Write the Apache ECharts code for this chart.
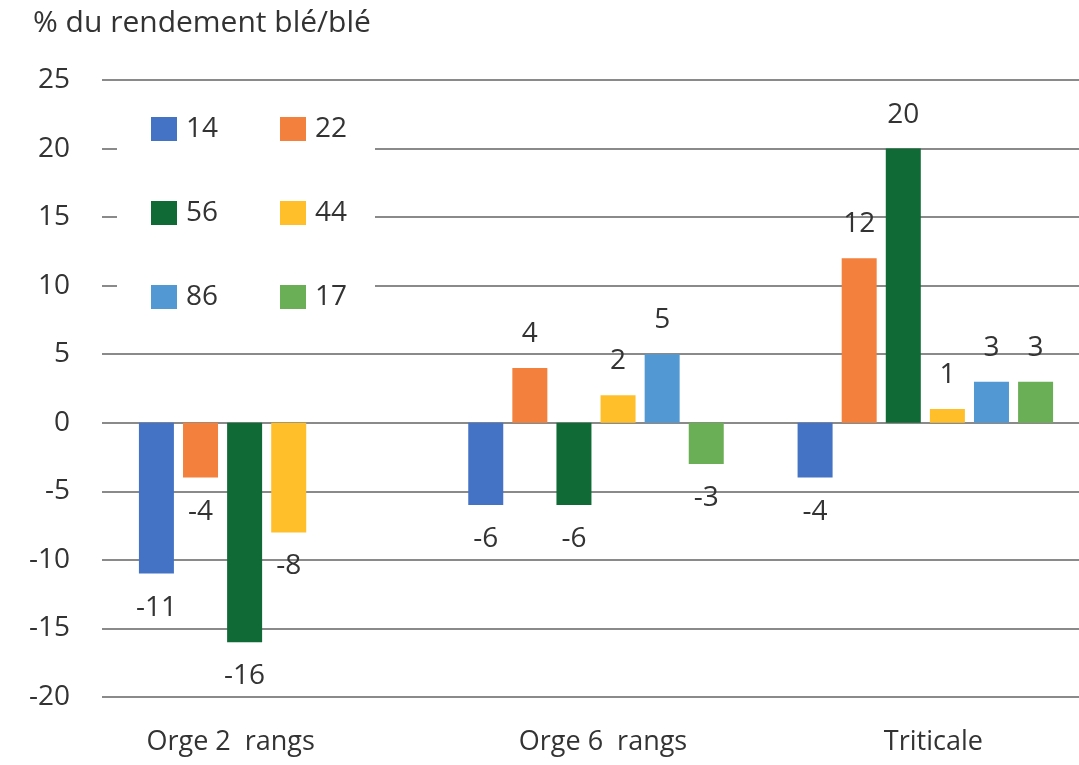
<!DOCTYPE html>
<html>
<head>
<meta charset="utf-8">
<script src="https://cdn.jsdelivr.net/npm/echarts@6/dist/echarts.min.js"></script>
<style>
  html, body { margin: 0; padding: 0; background: #fff; overflow: hidden; }
  /* plot area runs slightly past the right edge in the original */
  #chart-container { width: 1090px; height: 765px; }
</style>
</head>
<body>
<div id="chart-container"></div>
<script>
// categories and series values (null = no bar)
const categories = ["Orge 2  rangs", "Orge 6  rangs", "Triticale"];
const seriesNames = ["14", "22", "56", "44", "86", "17"];
const values14 = [-11, -6, -4];
const values22 = [-4, 4, 12];
const values56 = [-16, -6, 20];
const values44 = [-8, 2, 1];
const values86 = [null, 5, 3];
const values17 = [null, -3, 3];
const yTicks = { min: -20, max: 25, interval: 5 };

const colors = ["#4472C4", "#F3803C", "#0F6A35", "#FFBF2A", "#5299D3", "#6AAF55"];
const allValues = [values14, values22, values56, values44, values86, values17];
// the first category label sits left of its group in the original
const labelShift = [72, -14, -16];

var myChart = echarts.init(document.getElementById("chart-container"));

const font = "'Open Sans', 'Noto Sans', sans-serif";

const legendBase = {
  orient: "vertical",
  top: 110,
  itemGap: 56,
  itemWidth: 26,
  itemHeight: 24,
  icon: "rect",
  textStyle: { fontSize: 28, color: "#333", padding: [0, 0, 0, 4] },
};

var option = {
  animation: false,
  color: colors,
  textStyle: { fontFamily: font },
  title: {
    text: "% du rendement blé/blé",
    left: 28,
    top: 3,
    textStyle: { fontSize: 30, fontWeight: "normal", color: "#333", fontFamily: font },
  },
  legend: [
    Object.assign({}, legendBase, { data: ["14", "56", "86"], left: 146 }),
    Object.assign({}, legendBase, { data: ["22", "44", "17"], left: 275 }),
  ],
  graphic: [
    {
      type: "rect",
      shape: { x: 117, y: 92, width: 258, height: 228 },
      style: { fill: "#fff" },
      z: 1,
      silent: true,
    },
  ],
  grid: {
    left: 102,
    top: 80,
    right: 0,
    bottom: 68,
    containLabel: false,
  },
  xAxis: {
    type: "category",
    data: categories.map((c, i) => ({
      value: c,
      textStyle: {
        padding: labelShift[i] > 0 ? [0, labelShift[i], 0, 0] : [0, 0, 0, -labelShift[i]],
      },
    })),
    axisLine: { show: false },
    axisTick: { show: false },
    axisLabel: {
      margin: 32,
      fontSize: 27,
      color: "#333",
    },
  },
  yAxis: {
    type: "value",
    min: yTicks.min,
    max: yTicks.max,
    interval: yTicks.interval,
    axisLine: { show: false },
    axisTick: { show: false },
    axisLabel: { margin: 32, fontSize: 28, color: "#333" },
    splitLine: { lineStyle: { color: "#8a8a8a", width: 2 } },
  },
  series: seriesNames.map((name, i) => ({
    type: "bar",
    name: name,
    data: allValues[i].map((v) => ({
      value: v,
      label: { position: v < 0 ? "bottom" : "top" },
    })),
    barWidth: 35,
    barGap: "26%",
    z: 2,
    label: {
      show: true,
      distance: 20,
      fontSize: 28,
      color: "#333",
    },
  })),
};

option && myChart.setOption(option);
</script>
</body>
</html>
